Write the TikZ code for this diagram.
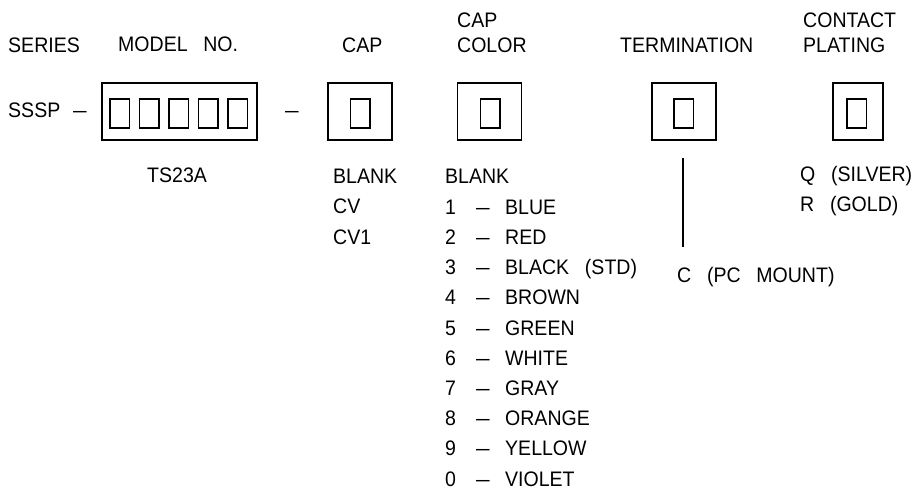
\documentclass[tikz,border=0pt]{standalone}
\usepackage{fontspec}
\setmainfont{Liberation Sans}[FakeStretch=0.93]
\newcommand{\wsp}{\hspace{0.75em}}
\newcommand{\lng}{\scalebox{1.25}[1]{--}}

\begin{document}
\begin{tikzpicture}[x=1pt, y=-1pt,
  txt/.style={font=\fontsize{21}{25}\selectfont, inner sep=0pt, anchor=base west},
  outerbox/.style={draw, line width=1.5pt, minimum height=57pt, inner sep=0pt},
  digit/.style={draw, line width=1.5pt, minimum width=19.5pt, minimum height=29pt, inner sep=0pt}]
\useasboundingbox (0,0) rectangle (919,489);

% =====================
% TITOLI
% =====================
\node[txt] (series) at (8,53) {SERIES};
\node[txt] (model) at (118,52) {MODEL\wsp NO.};
\node[txt] (cap) at (342,53) {CAP};
\node[txt] (capcolA) at (457,28) {CAP};
\node[txt] (capcolB) at (457,53) {COLOR};
\node[txt] (term) at (620,53) {TERMINATION};
\node[txt] (platA) at (803,28) {CONTACT};
\node[txt] (platB) at (803,53) {PLATING};

% =====================
% CASELLE
% =====================
\node[txt] (sssp) at (8,118) {SSSP};
\node[txt] (dashA) at (73,118) {\lng};
\node[outerbox, minimum width=155pt] (modelbox) at (179.5,111.5) {};
\foreach \i in {0,...,4}
  \node[digit] (m\i) at ({119.5+29.6*\i},113.5) {};
\node[txt] (dashB) at (285,118) {\lng};

\node[outerbox, minimum width=64pt] (capbox) at (360,111.5) {};
\node[digit] (capd) at (360,113.5) {};
\node[outerbox, minimum width=64pt] (colbox) at (489.5,111.5) {};
\node[digit] (cold) at (490,113.5) {};
\node[outerbox, minimum width=64pt] (termbox) at (684,111.5) {};
\node[digit] (termd) at (683.5,113.5) {};
\node[outerbox, minimum width=50pt] (platbox) at (858,111.5) {};
\node[digit] (platd) at (856.5,113.5) {};

% =====================
% OPZIONI
% =====================
\node[txt] (ts) at (147,183) {TS23A};

\node[txt] (capA) at (333,184) {BLANK};
\node[txt] (capB) at (333,214) {CV};
\node[txt] (capC) at (333,245) {CV1};

\node[txt] (col0) at (445,184) {BLANK};
\foreach \num/\name [count=\i] in {1/BLUE, 2/RED, 3/BLACK\wsp(STD), 4/BROWN,
    5/GREEN, 6/WHITE, 7/GRAY, 8/ORANGE, 9/YELLOW, 0/VIOLET} {
  \node[txt] (num\i) at (445,{184+30.2*\i}) {\num};
  \node[txt] (dash\i) at (476,{184+30.2*\i}) {\lng};
  \node[txt] (col\i) at (505,{184+30.2*\i}) {\name};
}

\coordinate (lineA) at (683,158);
\coordinate (lineB) at (683,247);
\draw[line width=1.5pt] (lineA) -- (lineB);
\node[txt] (pc) at (677,283) {C\wsp(PC\wsp MOUNT)};

\node[txt] (platQ) at (800,182) {Q\wsp(SILVER)};
\node[txt] (platR) at (800,212) {R\wsp(GOLD)};

\end{tikzpicture}
\end{document}
